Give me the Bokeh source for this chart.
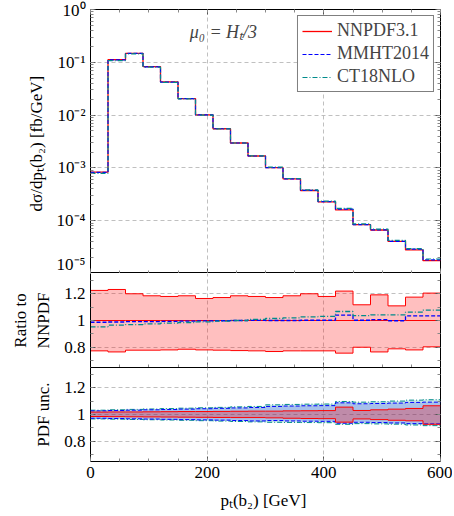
import numpy as np
from bokeh.plotting import figure
from bokeh.layouts import column
from bokeh.models import (Range1d, LinearAxis, LogAxis, LogTicker, SingleIntervalTicker,
                          CustomJSTickFormatter, Legend, LegendItem, Label)
from bokeh.embed import file_html
from bokeh.resources import INLINE

# ---------------- data ----------------
edges = list(range(0, 601, 30))  # bin edges in GeV

nnpdf = [8.3e-4, 0.112, 0.148, 0.083, 0.0426, 0.0206, 0.0101, 0.00552, 0.00296, 0.00168,
         0.00101, 6.2e-4, 3.73e-4, 2.28e-4, 1.60e-4, 8.4e-5, 6.67e-5, 4.07e-5, 2.8e-5, 1.75e-5]
mmht = [8.2e-4, 0.111, 0.147, 0.082, 0.0423, 0.0205, 0.0101, 0.00551, 0.00296, 0.00168,
        0.00101, 6.2e-4, 3.74e-4, 2.29e-4, 1.66e-4, 8.4e-5, 6.7e-5, 4.06e-5, 2.9e-5, 1.81e-5]
ct18 = [7.9e-4, 0.108, 0.144, 0.081, 0.0418, 0.0203, 0.0100, 0.00549, 0.00296, 0.00169,
        0.00103, 6.3e-4, 3.83e-4, 2.34e-4, 1.71e-4, 8.7e-5, 6.95e-5, 4.24e-5, 2.97e-5, 1.88e-5]

# ratio to NNPDF
mmht_ratio = [0.987, 0.989, 0.991, 0.992, 0.994, 0.995, 0.997, 0.998, 1.000, 1.001,
              1.000, 1.000, 1.002, 1.002, 1.040, 1.002, 1.007, 0.998, 1.035, 1.035]
ct18_ratio = [0.953, 0.965, 0.970, 0.975, 0.980, 0.985, 0.990, 0.995, 1.000, 1.008,
              1.015, 1.020, 1.027, 1.030, 1.067, 1.037, 1.042, 1.042, 1.062, 1.077]
# NNPDF scale-variation band
scale_up = [1.224, 1.231, 1.199, 1.184, 1.179, 1.184, 1.164, 1.171, 1.184, 1.179,
            1.171, 1.184, 1.199, 1.179, 1.219, 1.117, 1.191, 1.109, 1.174, 1.204]
scale_lo = [0.774, 0.766, 0.779, 0.779, 0.781, 0.786, 0.781, 0.779, 0.776, 0.774,
            0.769, 0.774, 0.774, 0.774, 0.757, 0.801, 0.766, 0.789, 0.781, 0.804]

# PDF uncertainty bands
nn_pdf_up = [1.018, 1.019, 1.019, 1.020, 1.021, 1.022, 1.022, 1.023, 1.024, 1.025,
             1.025, 1.027, 1.028, 1.029, 1.055, 1.030, 1.035, 1.040, 1.045, 1.065]
nn_pdf_lo = [0.985, 0.984, 0.983, 0.982, 0.981, 0.980, 0.979, 0.978, 0.977, 0.977,
             0.975, 0.972, 0.970, 0.969, 0.943, 0.967, 0.962, 0.957, 0.953, 0.927]
mm_pdf_up = [1.027, 1.030, 1.032, 1.035, 1.037, 1.040, 1.043, 1.046, 1.049, 1.052,
             1.060, 1.063, 1.065, 1.066, 1.087, 1.080, 1.082, 1.085, 1.090, 1.092]
mm_pdf_lo = [0.972, 0.970, 0.968, 0.966, 0.964, 0.962, 0.960, 0.958, 0.955, 0.952,
             0.955, 0.952, 0.950, 0.949, 0.935, 0.942, 0.940, 0.937, 0.932, 0.930]
ct_pdf_up = [1.032, 1.035, 1.038, 1.041, 1.044, 1.047, 1.050, 1.053, 1.057, 1.060,
             1.072, 1.075, 1.077, 1.078, 1.097, 1.092, 1.095, 1.100, 1.107, 1.110]
ct_pdf_lo = [0.967, 0.965, 0.963, 0.961, 0.959, 0.957, 0.954, 0.951, 0.948, 0.945,
             0.942, 0.941, 0.940, 0.939, 0.927, 0.932, 0.930, 0.928, 0.922, 0.917]

labels = ["NNPDF3.1", "MMHT2014", "CT18NLO"]
x_ticks_major = 200

# ---------------- styling ----------------
FONT = "Liberation Serif"
FS = "17px"
RED, BLUE, TEAL = "#ff0000", "#0000ff", "#008b8b"
LEFT, RIGHT = 90, 12
W = LEFT + 350 + RIGHT


def ext(v):
    v = list(v)
    return v + [v[-1]]


xr = Range1d(0, 600)
blank_fmt = CustomJSTickFormatter(code="return '';")


def base_fig(height, top, bottom, outline=True, **kw):
    p = figure(width=W, height=height, x_range=xr, output_backend="svg",
               toolbar_location=None, min_border_left=LEFT, min_border_right=RIGHT,
               min_border_top=top, min_border_bottom=bottom, **kw)
    p.outline_line_color = "black" if outline else None
    p.outline_line_width = 1
    p.background_fill_color = "white"
    p.border_fill_color = "white"
    for g in (p.xgrid, p.ygrid):
        g.grid_line_color = "#b0b0b0"
        g.grid_line_dash = "4 3"
        g.grid_line_width = 0.8
    return p


def style_axis(ax, show_labels=True, line=False):
    ax.axis_line_color = "black" if line else None
    ax.axis_line_width = 1
    ax.major_tick_in = 5
    ax.major_tick_out = 0
    ax.minor_tick_in = 3
    ax.minor_tick_out = 0
    ax.major_tick_line_color = "#555555"
    ax.minor_tick_line_color = "#888888"
    ax.major_label_text_font = FONT
    ax.major_label_text_color = "black"
    ax.axis_label_text_font = FONT
    ax.axis_label_text_font_size = FS
    ax.axis_label_text_font_style = "normal"
    ax.axis_label_text_color = "black"
    ax.axis_label_standoff = 8
    if show_labels:
        ax.major_label_text_font_size = FS
        ax.major_label_standoff = 5
    else:
        ax.major_label_text_font_size = "1px"
        ax.major_label_standoff = 0
        ax.formatter = blank_fmt


log_fmt = CustomJSTickFormatter(code="""
const e = Math.round(Math.log10(tick));
const sup = {'-':'\u207b','0':'\u2070','1':'\u00b9','2':'\u00b2','3':'\u00b3','4':'\u2074',
             '5':'\u2075','6':'\u2076','7':'\u2077','8':'\u2078','9':'\u2079'};
return '10' + String(e).split('').map(c => sup[c]).join('');
""")
ratio_fmt = CustomJSTickFormatter(code="return Math.abs(tick-1)<1e-6 ? '1' : tick.toFixed(1);")


def x_ticker():
    return SingleIntervalTicker(interval=x_ticks_major, num_minor_ticks=4)


def r_ticker():
    return SingleIntervalTicker(interval=0.2, num_minor_ticks=2)


# ---------------- top panel ----------------
p1 = base_fig(273, 9, 0, y_axis_type="log", y_range=Range1d(1e-5, 1))
p1.xaxis.ticker = x_ticker()
p1.xgrid.ticker = x_ticker()
p1.yaxis.ticker = LogTicker(num_minor_ticks=10)
p1.yaxis.formatter = log_fmt
p1.yaxis.axis_label = "dσ/dpₜ(b₂)  [fb/GeV]"
style_axis(p1.xaxis[0], show_labels=False)
style_axis(p1.yaxis[0])
ra = LogAxis(ticker=LogTicker(num_minor_ticks=10))
style_axis(ra, show_labels=False)
p1.add_layout(ra, "right")
ta = LinearAxis(ticker=x_ticker())
style_axis(ta, show_labels=False)
p1.add_layout(ta, "above")

r_nn = p1.step(edges, ext(nnpdf), mode="after", line_color=RED, line_width=1.3)
r_mm = p1.step(edges, ext(mmht), mode="after", line_color=BLUE, line_width=1.2, line_dash="4 2")
r_ct = p1.step(edges, ext(ct18), mode="after", line_color=TEAL, line_width=1.2, line_dash="5 2 1 2")

legend = Legend(items=[LegendItem(label=labels[0], renderers=[r_nn]),
                       LegendItem(label=labels[1], renderers=[r_mm]),
                       LegendItem(label=labels[2], renderers=[r_ct])],
                location="top_right")
legend.label_text_font = FONT
legend.label_text_font_size = "18px"
legend.label_height = 18
legend.glyph_height = 18
legend.glyph_width = 30
legend.spacing = 2
legend.padding = 4
legend.margin = 6
legend.border_line_color = "black"
legend.border_line_width = 1
legend.background_fill_alpha = 1
p1.add_layout(legend)

p1.add_layout(Label(x=170, y=0.37, text="μ₀ = Hₜ/3", text_font=FONT, text_font_size="18px",
                    text_font_style="italic", text_baseline="middle"))

# ---------------- ratio panel ----------------
p2 = base_fig(94, 0, 0, outline=False, y_range=Range1d(0.65, 1.35))
p2.xaxis.ticker = x_ticker()
p2.xgrid.ticker = x_ticker()
p2.yaxis.ticker = r_ticker()
p2.ygrid.ticker = r_ticker()
p2.yaxis.formatter = ratio_fmt
p2.yaxis.axis_label = "Ratio to\nNNPDF"
style_axis(p2.xaxis[0], show_labels=False)
style_axis(p2.yaxis[0], line=True)
ra2 = LinearAxis(ticker=r_ticker())
style_axis(ra2, show_labels=False, line=True)
p2.add_layout(ra2, "right")

nn_ratio = list(np.array(nnpdf) / np.array(nnpdf))
p2.varea_step(x=edges, y1=ext(scale_lo), y2=ext(scale_up), step_mode="after",
              fill_color=RED, fill_alpha=0.25)
p2.step(edges, ext(scale_up), mode="after", line_color=RED, line_width=1)
p2.step(edges, ext(scale_lo), mode="after", line_color=RED, line_width=1)
p2.step(edges, ext(nn_ratio), mode="after", line_color=RED, line_width=1)
p2.step(edges, ext(mmht_ratio), mode="after", line_color=BLUE, line_width=1.3, line_dash="4 2")
p2.step(edges, ext(ct18_ratio), mode="after", line_color=TEAL, line_width=1.3, line_dash="5 2 1 2")

# ---------------- PDF uncertainty panel ----------------
p3 = base_fig(146, 0, 52, y_range=Range1d(0.65, 1.35))
p3.xaxis.ticker = x_ticker()
p3.xgrid.ticker = x_ticker()
p3.yaxis.ticker = r_ticker()
p3.ygrid.ticker = r_ticker()
p3.yaxis.formatter = ratio_fmt
p3.yaxis.axis_label = "PDF unc."
p3.xaxis.axis_label = "pₜ(b₂)  [GeV]"
style_axis(p3.xaxis[0])
style_axis(p3.yaxis[0])
p3.xaxis[0].axis_label_standoff = 10
ra3 = LinearAxis(ticker=r_ticker())
style_axis(ra3, show_labels=False)
p3.add_layout(ra3, "right")

p3.varea_step(x=edges, y1=ext(ct_pdf_lo), y2=ext(ct_pdf_up), step_mode="after",
              fill_color=TEAL, fill_alpha=0.22)
p3.varea_step(x=edges, y1=ext(mm_pdf_lo), y2=ext(mm_pdf_up), step_mode="after",
              fill_color=BLUE, fill_alpha=0.16)
p3.varea_step(x=edges, y1=ext(nn_pdf_lo), y2=ext(nn_pdf_up), step_mode="after",
              fill_color=RED, fill_alpha=0.28)
for lo, up, col, dash in ((ct_pdf_lo, ct_pdf_up, TEAL, "5 2 1 2"),
                          (mm_pdf_lo, mm_pdf_up, BLUE, "4 2"),
                          (nn_pdf_lo, nn_pdf_up, RED, "solid")):
    p3.step(edges, ext(up), mode="after", line_color=col, line_width=1, line_dash=dash)
    p3.step(edges, ext(lo), mode="after", line_color=col, line_width=1, line_dash=dash)

layout = column(p1, p2, p3, spacing=0)
open("out.html", "w").write(file_html(layout, INLINE))
